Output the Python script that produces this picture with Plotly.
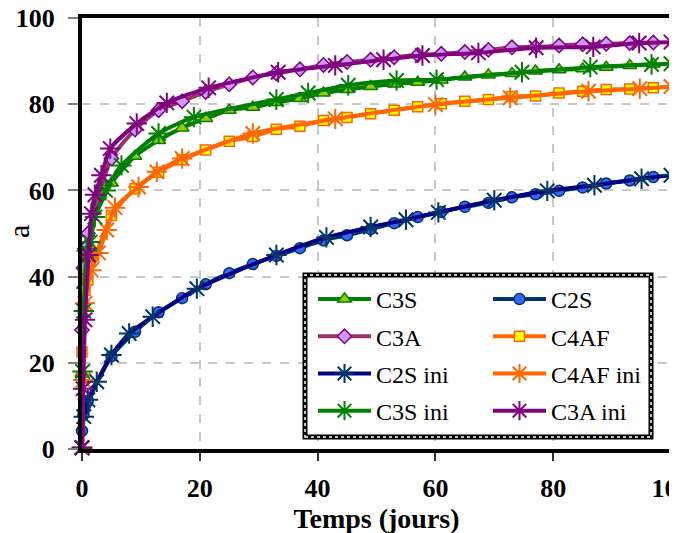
import plotly.graph_objects as go

# ---------------- data ----------------
t_model = [0, 0.25, 0.5, 1, 5, 9, 13, 17, 21, 25, 29, 33, 37, 41, 45, 49, 53,
           57, 61, 65, 69, 73, 77, 81, 85, 89, 93, 97]
c3s = [17.5, 38, 44, 50, 61.7, 67.9, 71.6, 74.5, 76.7, 78.6, 79.3, 80.4, 81.3, 82.6,
       83.4, 84.1, 84.7, 85.1, 85.6, 86.3, 86.8, 87.1, 87.7, 88.0, 88.2, 88.6, 89.0, 89.3]
c2s = [4.2, 7.9, 10.0, 11.2, 21.5, 27.2, 31.7, 35.0, 38.2, 40.8, 42.9, 44.8, 46.6, 48.4,
       49.6, 51.0, 52.4, 53.8, 55.0, 56.2, 57.1, 58.4, 59.1, 59.9, 60.7, 61.6, 62.3, 63.1]
c3a = [27.6, 42, 46.5, 50, 67.4, 74.1, 78.6, 80.7, 82.8, 84.6, 86.2, 87.2, 88.1, 89.1,
       89.8, 90.3, 90.9, 91.4, 91.7, 92.1, 92.6, 93.2, 93.3, 93.6, 93.9, 94.0, 94.2, 94.3]
c4af = [22.5, 33.4, 36.8, 39.2, 54.2, 60.4, 64.2, 67.1, 69.4, 71.4, 72.5, 74.2, 74.9, 76.2,
        76.9, 77.8, 78.6, 79.4, 80.1, 80.7, 81.1, 81.8, 81.9, 82.6, 83.0, 83.4, 83.5, 83.8]

t_c2s_ini = [0, 0.3, 1, 2.5, 5, 8, 12, 19.5, 33, 41.5, 49, 55, 60.5, 70, 79, 87, 95, 100]
c2s_ini = [0.3, 7.5, 11.4, 15.6, 21.8, 26.8, 30.7, 37.2, 45.0, 49.1, 51.5, 53.2, 54.9,
           57.7, 59.9, 61.2, 62.7, 63.5]

t_c4af_ini = [0, 0.2, 0.5, 1.6, 2.8, 4.2, 5.6, 9.6, 12.7, 17, 29, 43, 60, 72.7, 86, 94.7, 100]
c4af_ini = [0.3, 16, 33.8, 41.5, 45.5, 50.8, 56.0, 60.8, 64.3, 67.4, 73.2, 76.6, 79.9,
            81.5, 83.0, 83.6, 84.1]

t_c3s_ini = [0, 0.1, 0.3, 0.8, 1.4, 2.2, 4, 6.7, 13, 19, 33, 38.4, 45.2, 53.4, 60.2,
             74.7, 86.3, 96.7, 100]
c3s_ini = [0.3, 18, 32, 46, 48, 53.8, 60, 65.8, 73.2, 77.0, 81.1, 82.6, 84.4, 85.5, 85.7,
           87.4, 88.6, 89.2, 89.4]

t_c3a_ini = [0, 0.2, 0.5, 1.1, 1.6, 2.2, 3.3, 4.8, 9.3, 14.4, 21.5, 33.3, 43, 51.2, 57.8,
             67.3, 77.1, 86.8, 94.6, 100]
c3a_ini = [0.3, 14, 30, 45, 54.6, 59, 63.5, 69.7, 75.5, 80.3, 83.8, 87.4, 89.0, 90.3, 91.3,
           91.9, 93.1, 93.3, 94.2, 94.4]

x_ticks = [0, 20, 40, 60, 80, 100]
y_ticks = [0, 20, 40, 60, 80, 100]

# ---------------- figure ----------------
# the page body adds an 8px offset; margins compensate for it
OFF = 8
W, H = 677, 533
ML, MT = 82 - OFF, 18 - OFF
MR = W - (671 - OFF)
MB = H - (449 - OFF)
PW, PH = W - ML - MR, H - MT - MB

SERIF = "Liberation Serif, Times New Roman, serif"

fig = go.Figure()


def model(name, y, lc, sym, fill, oc, size, leg):
    fig.add_trace(go.Scatter(
        x=t_model, y=y, name=name, mode="lines+markers", cliponaxis=False,
        legend=leg, legendgroup=name,
        line=dict(color=lc, width=4, shape="spline", smoothing=0.6),
        marker=dict(symbol=sym, size=size, color=fill, line=dict(color=oc, width=1.5))))


def ini(name, t, y, lc, mc, leg):
    fig.add_trace(go.Scatter(
        x=t, y=y, name=name, mode="lines+markers", cliponaxis=False,
        legend=leg, legendgroup=name,
        line=dict(color=lc, width=4, shape="spline", smoothing=0.6),
        marker=dict(symbol="asterisk-open", size=17, color=mc, line=dict(color=mc, width=2))))


model("C3S", c3s, "#008000", "triangle-up", "#99CC00", "#008000", 12, "legend")
model("C2S", c2s, "#003366", "circle", "#3366FF", "#003366", 11, "legend2")
model("C3A", c3a, "#993366", "diamond", "#CC99FF", "#800080", 11, "legend")
model("C4AF", c4af, "#FF6600", "square", "#FFFF00", "#FF6600", 10, "legend2")
ini("C2S ini", t_c2s_ini, c2s_ini, "#000080", "#003366", "legend")
ini("C4AF ini", t_c4af_ini, c4af_ini, "#FF6600", "#FF6600", "legend2")
ini("C3S ini", t_c3s_ini, c3s_ini, "#008000", "#008000", "legend")
ini("C3A ini", t_c3a_ini, c3a_ini, "#800080", "#800080", "legend2")


def px(xp):
    return (xp - OFF - ML) / PW


def py(yp):
    return (H - MB - (yp - OFF)) / PH


# legend frame (chain-like dotted border)
fig.add_shape(type="rect", xref="paper", yref="paper", layer="above",
              x0=px(305), x1=px(651), y0=py(437), y1=py(275),
              fillcolor="white", line=dict(color="black", width=5))
fig.add_shape(type="rect", xref="paper", yref="paper", layer="above",
              x0=px(305), x1=px(651), y0=py(437), y1=py(275),
              fillcolor="rgba(0,0,0,0)", line=dict(color="white", width=1.5, dash="3px,3px"))

# y-axis title "a"
fig.add_annotation(text="a", xref="paper", yref="paper", x=px(19), y=py(232),
                   xanchor="center", yanchor="middle", textangle=-90, showarrow=False,
                   font=dict(family=SERIF, size=30, color="black"))

tickfont = dict(family=SERIF, size=26, color="black", weight="bold")
axis_common = dict(range=[0, 100], showgrid=True, gridcolor="#C8C8C8", griddash="dash",
                   gridwidth=1.5, showline=True, linecolor="black", linewidth=4, mirror=True,
                   zeroline=False, ticks="outside", tickwidth=2, tickfont=tickfont,
                   automargin=False, ticklabeloverflow="allow")

legfont = dict(family=SERIF, size=24, color="black")
legcommon = dict(orientation="v", xanchor="left", yanchor="top", font=legfont,
                 bgcolor="rgba(0,0,0,0)", itemwidth=53, tracegroupgap=3,
                 traceorder="grouped")

fig.update_layout(
    width=W, height=H,
    margin=dict(l=ML, r=MR, t=MT, b=MB),
    font=dict(family=SERIF, color="black"),
    paper_bgcolor="white", plot_bgcolor="white",
    xaxis=dict(axis_common, tickvals=x_ticks, ticklen=8, tickcolor="#303030",
               ticklabelstandoff=5,
               title=dict(text="Temps (jours)", standoff=0,
                          font=dict(family=SERIF, size=28, color="black",
                                    weight="bold"))),
    yaxis=dict(axis_common, tickvals=y_ticks, ticklen=10, tickcolor="#808080",
               ticklabelstandoff=8),
    legend=dict(legcommon, x=px(313), y=py(277)),
    legend2=dict(legcommon, x=px(488), y=py(277)),
    showlegend=True,
)

fig.write_html("out.html")
